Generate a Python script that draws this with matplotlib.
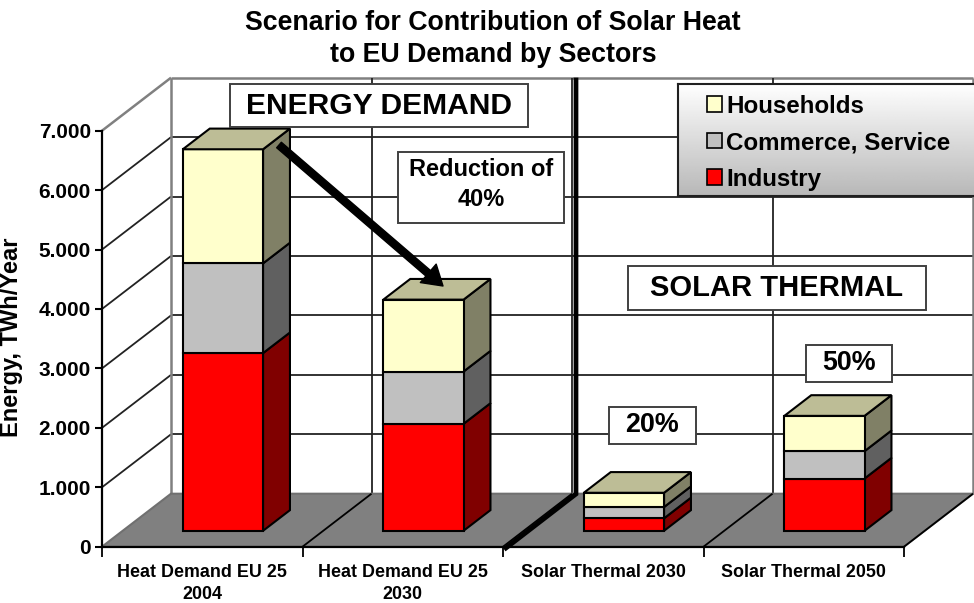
import matplotlib
matplotlib.use("Agg")
import matplotlib.pyplot as plt
import numpy as np
from matplotlib.patches import Patch, Polygon, Rectangle

plt.rcParams["font.family"] = ["Liberation Sans", "DejaVu Sans"]
plt.rcParams["font.weight"] = "bold"

# values
categories = ["Heat Demand EU 25\n2004", "Heat Demand EU 25\n2030",
              "Solar Thermal 2030", "Solar Thermal 2050"]
industry = [2990, 1800, 210, 880]
commerce = [1510, 880, 190, 460]
households = [1920, 1210, 240, 594]
y_ticks = [0, 1000, 2000, 3000, 4000, 5000, 6000, 7000]
y_tick_labels = ["0", "1.000", "2.000", "3.000", "4.000", "5.000", "6.000", "7.000"]

W, H = 974, 603
DX, DY = 69 / 200.5, 53 / 59.43 * 1000  # depth of the 3d box in data units
BAR_W = 0.40
D0, D1 = 0.30, 0.69

fig = plt.figure(figsize=(W / 100, H / 100), dpi=100, facecolor="white")
ax = fig.add_axes([102 / W, 1 - 546.7 / H, 802 / W, 416 / H])
ax.set_xlim(0, 4)
ax.set_ylim(0, 7000)
ax.patch.set_visible(False)


def proj(x, y, d):
    return x + d * DX, y + d * DY


def fp(x, y):
    # reference pixel to figure fraction
    return x / W, 1 - y / H


def face(pts, color, z, ec="black", lw=1.5):
    ax.add_patch(Polygon([proj(*p) for p in pts], closed=True, fc=color, ec=ec, lw=lw,
                         zorder=z, clip_on=False, joinstyle="miter"))


def wall_line(pts, color="#222222", lw=1.3, z=1):
    xy = np.array([proj(*p) for p in pts])
    ax.plot(xy[:, 0], xy[:, 1], color=color, lw=lw, zorder=z, clip_on=False,
            solid_capstyle="butt")


# walls and grid
for v in y_ticks[1:]:
    top = v == 7000
    c = "#808080" if top else "#222222"
    w = 1.8 if top else 1.3
    wall_line([(0, v, 0), (0, v, 1)], c, w)
    wall_line([(0, v, 1), (4, v, 1)], c, w)
wall_line([(0, 0, 1), (0, 7000, 1)], "#808080", 1.8)
wall_line([(4, 0, 1), (4, 7000, 1)], "#808080", 1.8)
for i in [1, 2, 3]:
    wall_line([(i, 0, 1), (i, 7000, 1)], "#222222", 1.3)

# floor
face([(0, 0, 0), (4, 0, 0), (4, 0, 1), (0, 0, 1)], "#808080", 2, ec="#707070", lw=1.5)
for i in [1, 2, 3, 4]:
    wall_line([(i, 0, 0), (i, 0, 1)], "black", 1.3, 3)

# stacked bars
layers = [
    (industry, "#FF0000", "#800000"),
    (commerce, "#C0C0C0", "#606060"),
    (households, "#FFFFCC", "#808066"),
]
for i in range(len(categories)):
    x0 = i + (1 - BAR_W) / 2
    x1 = x0 + BAR_W
    base = 0
    for vals, front, side in layers:
        top = base + vals[i]
        face([(x1, base, D0), (x1, base, D1), (x1, top, D1), (x1, top, D0)], side, 5)
        face([(x0, base, D0), (x1, base, D0), (x1, top, D0), (x0, top, D0)], front, 5)
        base = top
    face([(x0, base, D0), (x1, base, D0), (x1, base, D1), (x0, base, D1)], "#BDBD96", 5)

# axes
for s in ["top", "right"]:
    ax.spines[s].set_visible(False)
for s in ["left", "bottom"]:
    ax.spines[s].set_linewidth(1.6)
    ax.spines[s].set_zorder(6)
ax.set_yticks(y_ticks)
ax.set_yticklabels(y_tick_labels, fontsize=15, fontweight="bold")
ax.tick_params(axis="y", length=5, width=1.5, pad=3)
ax.set_xticks([0, 1, 2, 3, 4])
ax.set_xticklabels([])
ax.set_xticks([0.5, 1.5, 2.5, 3.5], labels=categories, minor=True, fontsize=12.9,
              fontweight="bold", linespacing=1.4)
ax.tick_params(axis="x", which="major", length=7, width=1.3)
ax.tick_params(axis="x", which="minor", length=0, pad=12.5)
ax.set_ylabel("Energy, TWh/Year", fontsize=17, fontweight="bold")
ax.yaxis.set_label_coords((23 - 102) / 802, 0.503)

fig.text(*fp(493, 39), "Scenario for Contribution of Solar Heat\nto EU Demand by Sectors",
         fontsize=19.3, fontweight="bold", ha="center", va="center", linespacing=1.35)


# annotation boxes
def label_box(x0, y0, x1, y1, text, size, dy=0):
    l, b = fp(x0, y1)
    ax.add_patch(Rectangle((l, b), (x1 - x0) / W, (y1 - y0) / H, transform=fig.transFigure,
                           fc="white", ec="#404040", lw=1.4, zorder=8, clip_on=False))
    ax.text(*fp((x0 + x1) / 2, (y0 + y1) / 2 + dy), text, transform=fig.transFigure, fontsize=size,
            fontweight="bold", ha="center", va="center", zorder=9, linespacing=1.4)


label_box(230, 84, 528, 127, "ENERGY DEMAND", 21.6, 1)
label_box(398, 152, 564, 223, "Reduction of\n40%", 17, -3)
label_box(628, 266, 926, 310, "SOLAR THERMAL", 21)
label_box(609, 407, 696, 444, "20%", 19.4)
label_box(806, 345, 892, 382, "50%", 19.4)

# divider between demand and solar thermal
sx = [fp(576, 80)[0], fp(576, 494)[0], fp(506, 548)[0]]
sy = [fp(576, 80)[1], fp(576, 494)[1], fp(506, 548)[1]]
ax.plot(sx, sy, transform=fig.transFigure, color="black", lw=3.4, zorder=7, clip_on=False,
        solid_joinstyle="miter")

# arrow
ax.annotate("", xy=fp(443, 286), xytext=fp(279, 145), xycoords="figure fraction",
            textcoords="figure fraction", zorder=7,
            arrowprops=dict(facecolor="black", edgecolor="black", width=5.2, headwidth=17.5,
                            headlength=14, shrink=0))

# legend panel with vertical gradient
leg_ax = fig.add_axes([678 / W, 1 - 196 / H, 296 / W, 112 / H], zorder=10)
grad = np.linspace(1.0, 0.72, 128).reshape(-1, 1)
leg_ax.imshow(grad, cmap="gray", vmin=0, vmax=1, aspect="auto", extent=(0, 1, 0, 1))
leg_ax.set_xticks([])
leg_ax.set_yticks([])
for s in ["top", "left", "bottom"]:
    leg_ax.spines[s].set_linewidth(1.5)
    leg_ax.spines[s].set_color("#202020")
leg_ax.spines["right"].set_visible(False)
handles = [Patch(fc="#FFFFCC", ec="black", lw=1.2), Patch(fc="#C0C0C0", ec="black", lw=1.2),
           Patch(fc="#FF0000", ec="black", lw=1.2)]
leg = leg_ax.legend(handles, ["Households", "Commerce, Service", "Industry"],
                    loc="upper left", bbox_to_anchor=(29 / 296, 0.905), frameon=False,
                    prop={"size": 17.4, "weight": "bold"}, handlelength=0.62, handleheight=0.62,
                    handletextpad=0.17, labelspacing=0.56, borderpad=0, borderaxespad=0)

fig.savefig("out.png", dpi=100)
